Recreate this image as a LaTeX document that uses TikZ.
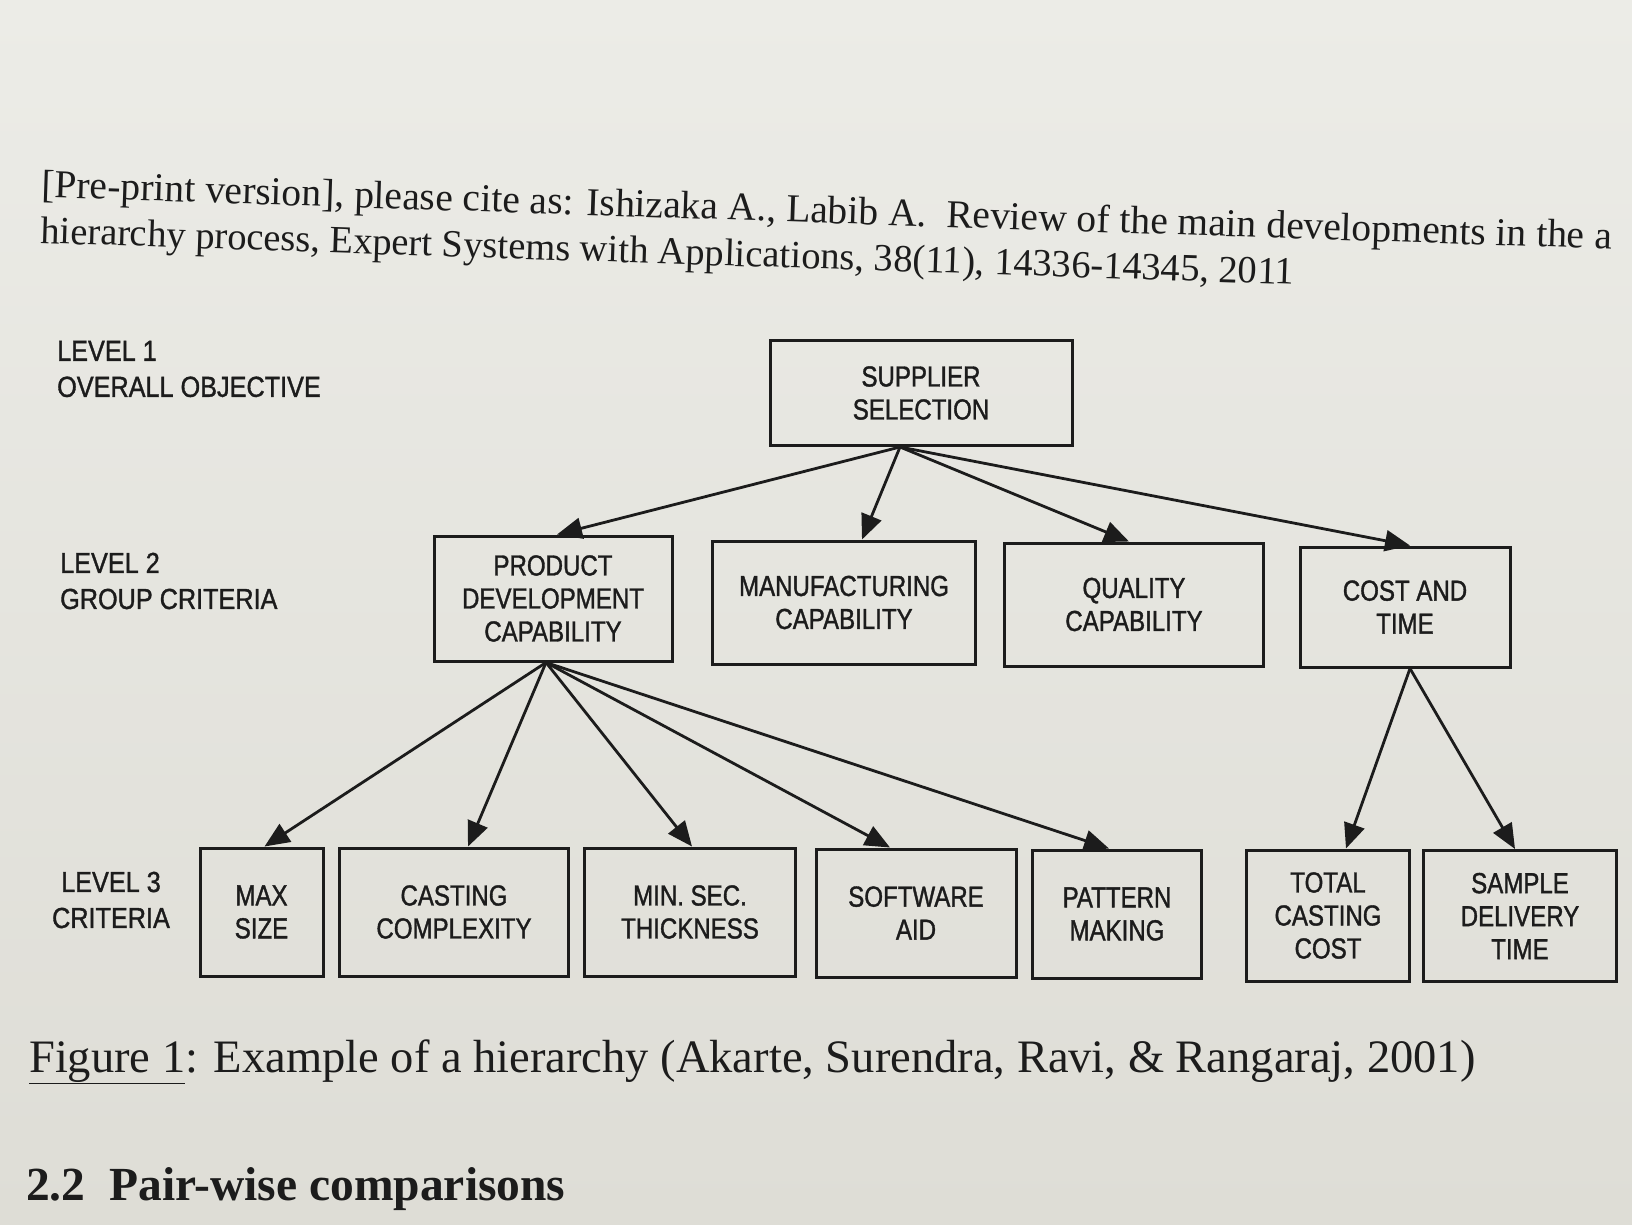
\documentclass[tikz,border=0pt]{standalone}
\usepackage{fontspec}
\setmainfont{Liberation Serif}
\newfontfamily\diagfont[FakeStretch=0.83,FakeBold=1.2]{Liberation Sans}
\newfontfamily\lvlfont[FakeStretch=0.87,FakeBold=1.2]{Liberation Sans}
\usetikzlibrary{arrows.meta}
\definecolor{papertop}{RGB}{236,236,231}
\definecolor{paperbot}{RGB}{222,221,214}
\definecolor{ink}{RGB}{28,28,28}
\begin{document}
\begin{tikzpicture}[x=1pt,y=-1pt,
  box/.style={draw=ink, line width=3pt, inner sep=0pt, align=center, text=ink,
    font=\diagfont\fontsize{29}{33}\selectfont},
  lvl/.style={inner sep=0pt, text=ink, font=\lvlfont\fontsize{29}{36}\selectfont},
  arr/.style={draw=ink, line width=2.8pt, -{Triangle[length=25pt,width=21pt]}},
  prose/.style={inner sep=0pt, text=ink, anchor=base west},
]
\useasboundingbox (0,0) rectangle (1632,1224);
\clip (0,0) rectangle (1632,1224);
\fill[top color=papertop, bottom color=paperbot] (0,0) rectangle (1632,1224);

% header (one two-line text; base anchor = last line)
\node[prose, rotate=-1.9, align=left, font=\fontsize{39.5}{46}\selectfont] (hdr) at (40,243)
  {[Pre-print version], please cite as: Ishizaka A., Labib A.\ \ Review of the main developments in the a\\
   \fontsize{38.5}{46}\selectfont hierarchy process, Expert Systems with Applications, 38(11), 14336-14345, 2011};

% level labels
\node[lvl, anchor=west, align=left] (l1) at (57,369) {LEVEL 1\\OVERALL OBJECTIVE};
\node[lvl, anchor=west, align=left] (l2) at (60,581) {LEVEL 2\\GROUP CRITERIA};
\node[lvl, align=center] (l3) at (111,900) {LEVEL 3\\CRITERIA};

% level 1
\node[box, minimum width=302pt, minimum height=105pt] (sup) at (921,393) {SUPPLIER\\SELECTION};

% level 2
\node[box, minimum width=238pt, minimum height=125pt] (pdc)  at (553,598.5) {PRODUCT\\DEVELOPMENT\\CAPABILITY};
\node[box, minimum width=263pt, minimum height=123pt] (man)  at (844,602.5) {MANUFACTURING\\CAPABILITY};
\node[box, minimum width=259pt, minimum height=123pt] (qual) at (1134,604.5) {QUALITY\\CAPABILITY};
\node[box, minimum width=210pt, minimum height=120pt] (cost) at (1405,607) {COST AND\\TIME};

% level 3
\node[box, minimum width=123pt, minimum height=128pt] (max)  at (261.5,912) {MAX\\SIZE};
\node[box, minimum width=229pt, minimum height=128pt] (cast) at (454,912) {CASTING\\COMPLEXITY};
\node[box, minimum width=211pt, minimum height=128pt] (minsec) at (690,912) {MIN. SEC.\\THICKNESS};
\node[box, minimum width=200pt, minimum height=128pt] (soft) at (916,913) {SOFTWARE\\AID};
\node[box, minimum width=169pt, minimum height=128pt] (patt) at (1117,914) {PATTERN\\MAKING};
\node[box, minimum width=163pt, minimum height=131pt] (tot)  at (1328,915.5) {TOTAL\\CASTING\\COST};
\node[box, minimum width=193pt, minimum height=131pt] (samp) at (1520,916) {SAMPLE\\DELIVERY\\TIME};

% arrows level 1 -> 2
\draw[arr] ([xshift=-21pt]sup.south) -- ([xshift=4pt]pdc.north);
\draw[arr] ([xshift=-21pt]sup.south) -- ([xshift=18pt]man.north);
\draw[arr] ([xshift=-21pt]sup.south) -- ([xshift=-5pt]qual.north);
\draw[arr] ([xshift=-21pt]sup.south) -- ([xshift=5pt]cost.north);

% arrows level 2 -> 3
\draw[arr] ([xshift=-7pt]pdc.south) -- ([xshift=3pt]max.north);
\draw[arr] ([xshift=-7pt]pdc.south) -- ([xshift=14pt]cast.north);
\draw[arr] ([xshift=-7pt]pdc.south) -- ([xshift=2pt]minsec.north);
\draw[arr] ([xshift=-7pt]pdc.south) -- ([xshift=-26pt]soft.north);
\draw[arr] ([xshift=-7pt]pdc.south) -- ([xshift=-8pt]patt.north);
\draw[arr] ([xshift=5pt]cost.south) -- ([xshift=18pt]tot.north);
\draw[arr] ([xshift=5pt]cost.south) -- ([xshift=-5pt]samp.north);

% caption and heading
\node[prose, font=\fontsize{46.5}{50}\selectfont] (cap) at (29,1072)
  {\underline{Figure 1}: Example of a hierarchy (Akarte, Surendra, Ravi, \& Rangaraj, 2001)};
\node[prose, font=\bfseries\fontsize{47.5}{50}\selectfont] (sec) at (26,1200)
  {2.2\ \ Pair-wise comparisons};
\end{tikzpicture}
\end{document}
